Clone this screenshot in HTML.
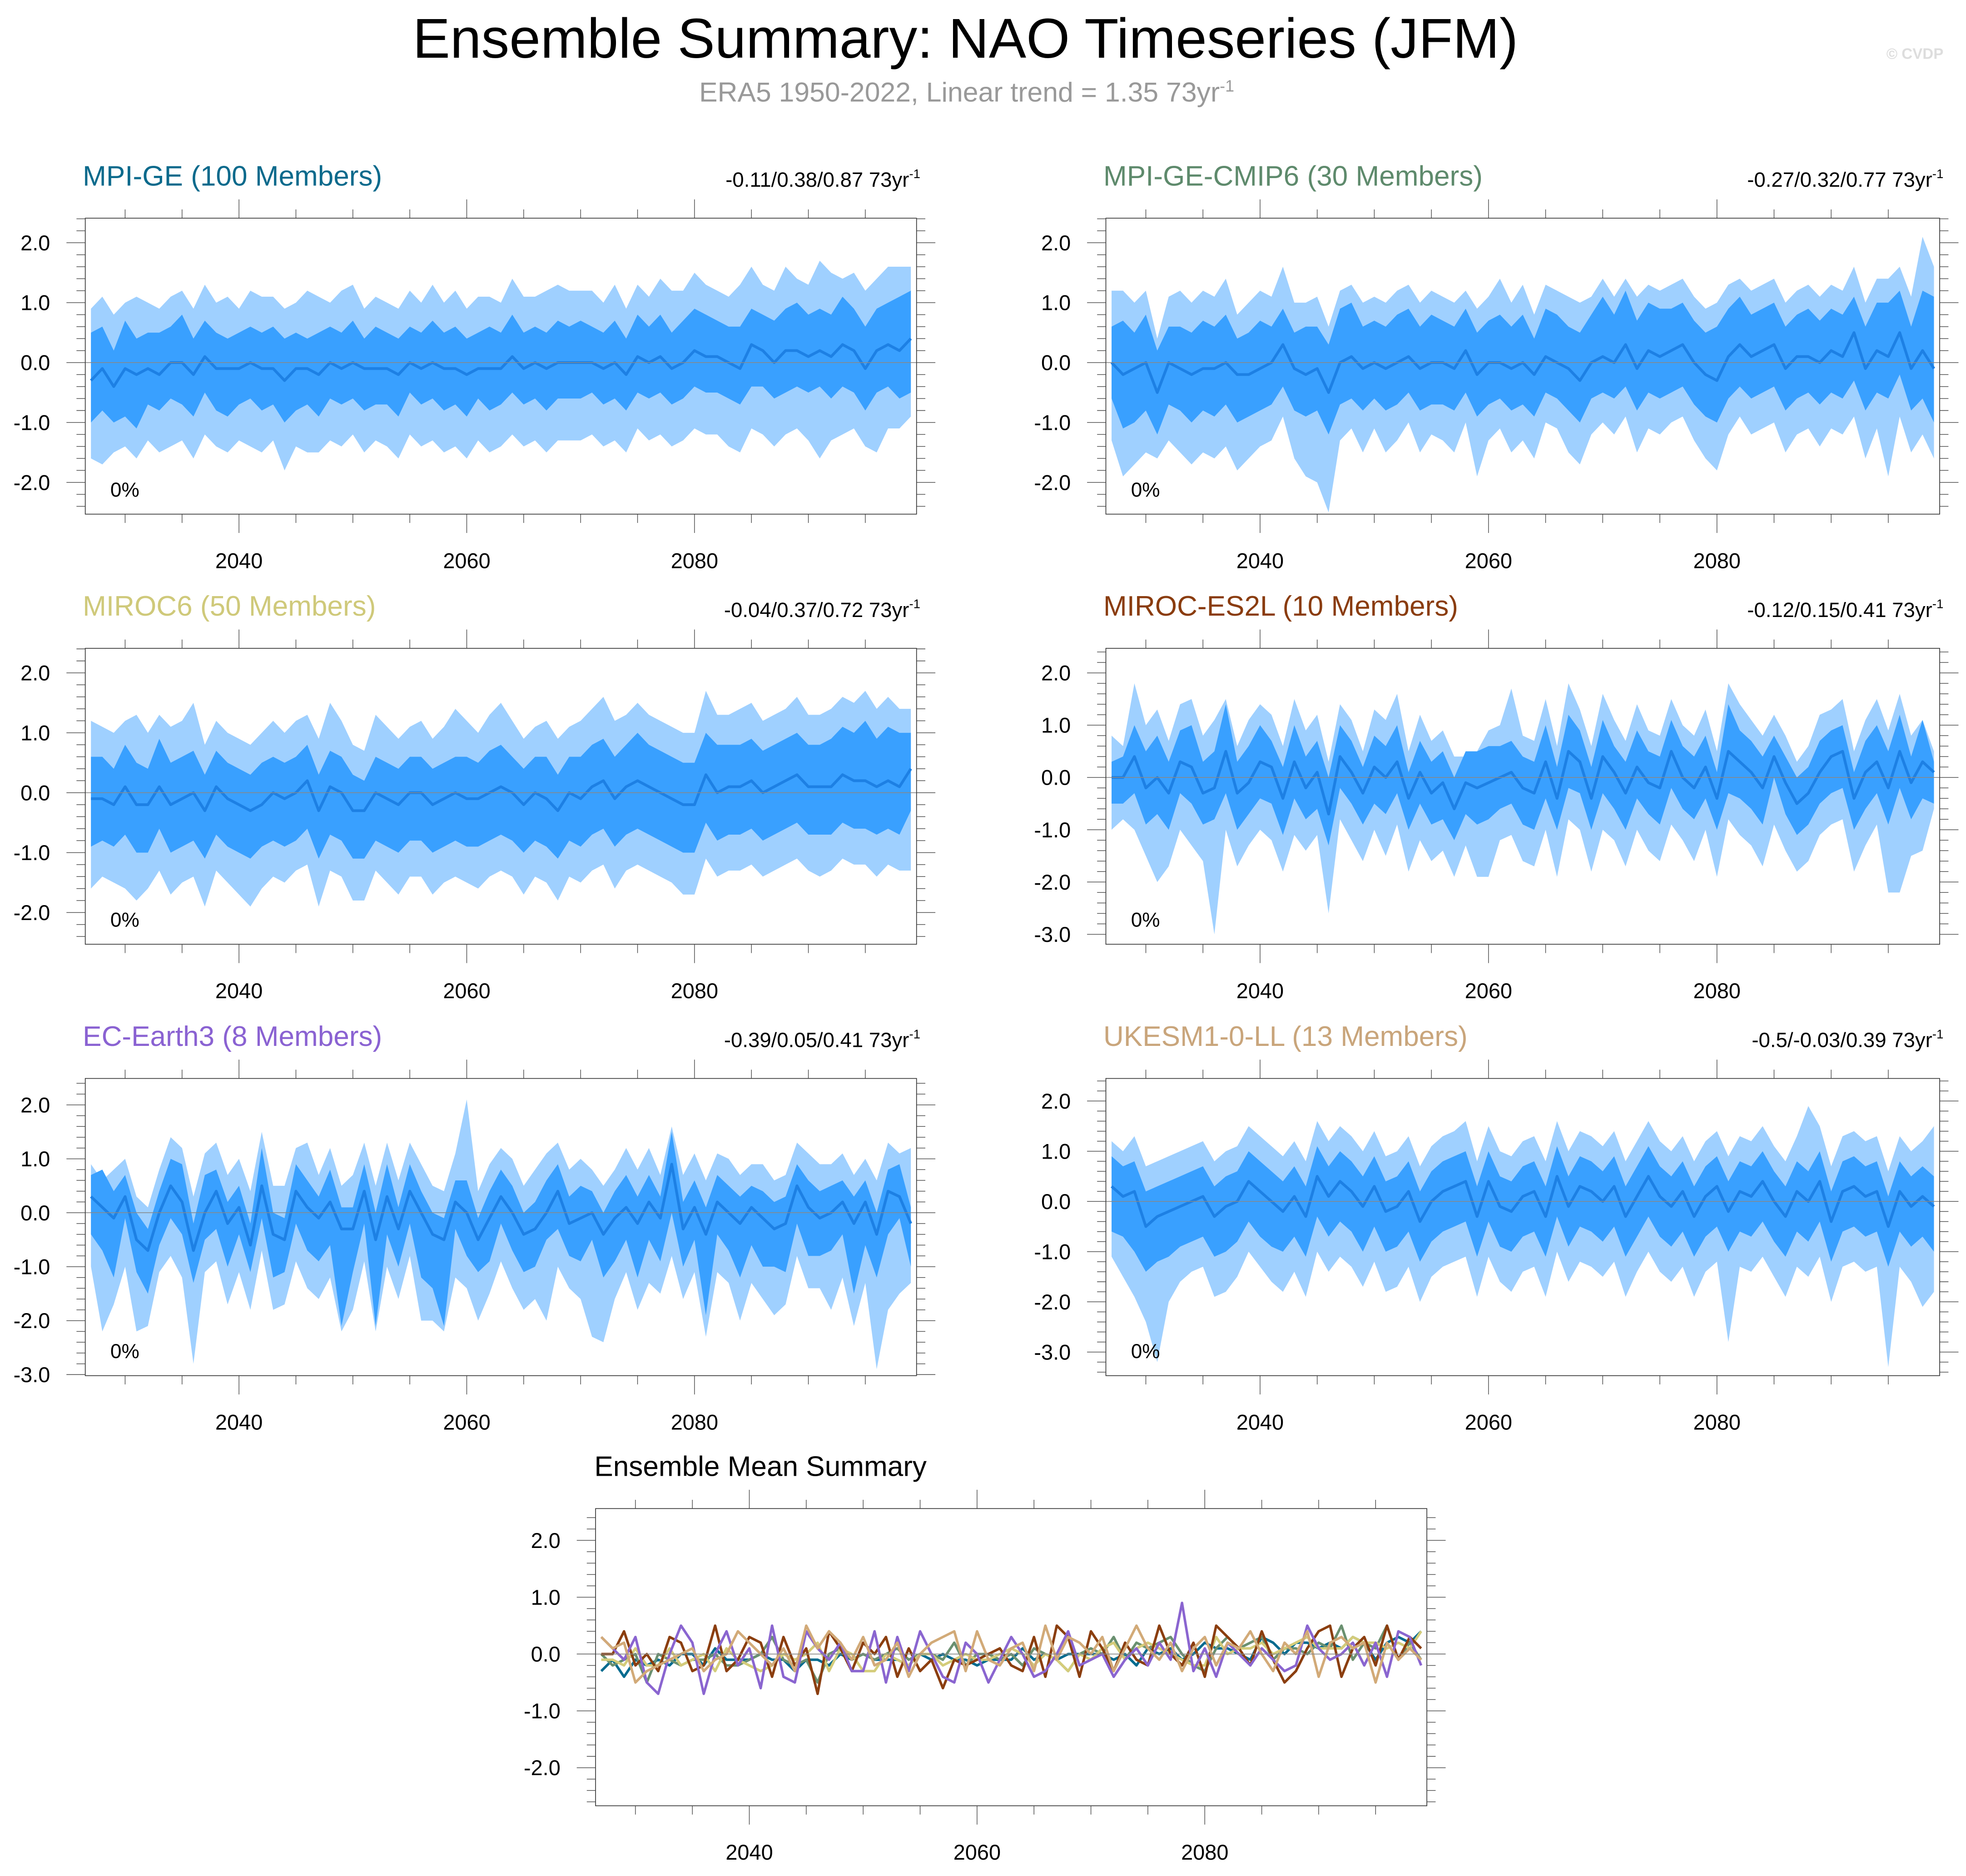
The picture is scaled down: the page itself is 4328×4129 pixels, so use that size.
<!DOCTYPE html>
<html><head><meta charset="utf-8"><style>
html,body{margin:0;padding:0;background:#fff;}
svg{display:block;font-family:"Liberation Sans",sans-serif;}
</style></head><body>
<svg id="root" width="4328" height="4129" viewBox="0 0 1568 1496" preserveAspectRatio="none" xmlns="http://www.w3.org/2000/svg">
<text x="770" y="46" text-anchor="middle" font-size="44.7">Ensemble Summary: NAO Timeseries (JFM)</text>
<text x="771" y="81" text-anchor="middle" font-size="22" fill="#999">ERA5 1950-2022, Linear trend = 1.35 73yr<tspan font-size="13" dy="-8">-1</tspan></text>
<text x="1550" y="47" text-anchor="end" font-size="12" fill="#ddd" font-weight="bold">© CVDP</text>
</svg>
<script>
const startYear = 2027;
const p1Mean=[-0.3,-0.1,-0.4,-0.1,-0.2,-0.1,-0.2,0.0,0.0,-0.2,0.1,-0.1,-0.1,-0.1,0.0,-0.1,-0.1,-0.3,-0.1,-0.1,-0.2,0.0,-0.1,0.0,-0.1,-0.1,-0.1,-0.2,0.0,-0.1,0.0,-0.1,-0.1,-0.2,-0.1,-0.1,-0.1,0.1,-0.1,0.0,-0.1,0.0,0.0,0.0,0.0,-0.1,0.0,-0.2,0.1,0.0,0.1,-0.1,0.0,0.2,0.1,0.1,0.0,-0.1,0.3,0.2,0.0,0.2,0.2,0.1,0.2,0.1,0.3,0.2,-0.1,0.2,0.3,0.2,0.4];
const p1Hi=[0.5,0.6,0.2,0.7,0.4,0.5,0.5,0.6,0.8,0.4,0.7,0.5,0.4,0.5,0.6,0.5,0.6,0.4,0.5,0.4,0.5,0.6,0.5,0.7,0.4,0.6,0.5,0.4,0.6,0.5,0.7,0.5,0.6,0.4,0.5,0.6,0.5,0.8,0.5,0.6,0.5,0.7,0.6,0.7,0.6,0.5,0.7,0.4,0.8,0.6,0.8,0.5,0.7,0.9,0.8,0.7,0.6,0.6,0.9,0.8,0.7,0.9,1.0,0.8,0.9,0.8,1.1,0.9,0.6,0.9,1.0,1.1,1.2];
const p1Lo=[-1.0,-0.8,-1.0,-0.9,-1.1,-0.7,-0.8,-0.6,-0.7,-0.9,-0.5,-0.8,-0.9,-0.7,-0.6,-0.8,-0.7,-1.0,-0.8,-0.7,-0.9,-0.6,-0.7,-0.6,-0.8,-0.7,-0.7,-0.9,-0.5,-0.7,-0.6,-0.8,-0.7,-0.9,-0.6,-0.8,-0.7,-0.5,-0.7,-0.6,-0.8,-0.6,-0.6,-0.6,-0.5,-0.7,-0.6,-0.8,-0.5,-0.6,-0.5,-0.7,-0.6,-0.4,-0.5,-0.5,-0.6,-0.7,-0.4,-0.4,-0.6,-0.5,-0.4,-0.5,-0.4,-0.6,-0.4,-0.5,-0.8,-0.5,-0.4,-0.6,-0.5];
const p1Max=[0.9,1.1,0.8,1.0,1.1,1.0,0.9,1.1,1.2,0.9,1.3,1.0,1.1,0.9,1.2,1.1,1.1,0.9,1.0,1.2,1.1,1.0,1.2,1.3,0.9,1.1,1.0,0.9,1.2,1.0,1.3,1.0,1.2,0.9,1.1,1.1,1.0,1.4,1.1,1.1,1.2,1.3,1.2,1.2,1.2,1.0,1.3,0.9,1.3,1.1,1.4,1.2,1.2,1.5,1.3,1.2,1.1,1.3,1.6,1.3,1.2,1.6,1.4,1.3,1.7,1.5,1.4,1.5,1.2,1.4,1.6,1.6,1.6];
const p1Min=[-1.6,-1.7,-1.5,-1.4,-1.6,-1.3,-1.5,-1.4,-1.3,-1.6,-1.2,-1.4,-1.5,-1.3,-1.4,-1.5,-1.3,-1.8,-1.4,-1.5,-1.5,-1.3,-1.4,-1.2,-1.5,-1.3,-1.4,-1.6,-1.2,-1.4,-1.3,-1.5,-1.4,-1.6,-1.3,-1.5,-1.4,-1.2,-1.4,-1.3,-1.5,-1.3,-1.3,-1.3,-1.2,-1.4,-1.3,-1.5,-1.1,-1.3,-1.2,-1.4,-1.3,-1.1,-1.2,-1.2,-1.4,-1.5,-1.1,-1.2,-1.4,-1.2,-1.1,-1.3,-1.6,-1.3,-1.2,-1.1,-1.4,-1.5,-1.1,-1.1,-0.9];

const p2Mean=[0.0,-0.2,-0.1,0.0,-0.5,0.0,-0.1,-0.2,-0.1,-0.1,0.0,-0.2,-0.2,-0.1,0.0,0.3,-0.1,-0.2,-0.1,-0.5,0.0,0.1,-0.1,0.0,-0.1,0.0,0.1,-0.1,0.0,0.0,-0.1,0.2,-0.2,0.0,0.0,-0.1,0.0,-0.2,0.1,0.0,-0.1,-0.3,0.0,0.1,0.0,0.3,-0.1,0.2,0.1,0.2,0.3,0.0,-0.2,-0.3,0.1,0.3,0.1,0.2,0.3,-0.1,0.1,0.1,0.0,0.2,0.1,0.5,-0.1,0.2,0.1,0.5,-0.1,0.2,-0.1];
const p2Hi=[0.6,0.7,0.5,0.8,0.2,0.6,0.6,0.5,0.7,0.6,0.8,0.4,0.5,0.7,0.6,0.9,0.5,0.6,0.6,0.3,0.9,1.0,0.6,0.7,0.6,0.8,0.9,0.6,0.8,0.7,0.6,0.9,0.5,0.7,0.8,0.6,0.8,0.4,0.9,0.8,0.6,0.5,0.8,1.1,0.8,1.2,0.7,1.0,0.9,0.9,1.0,0.7,0.5,0.6,0.9,1.1,0.8,0.9,1.0,0.6,0.8,0.9,0.7,0.9,0.8,1.1,0.6,1.0,1.0,1.2,0.6,1.2,1.1];
const p2Lo=[-0.6,-1.1,-1.0,-0.8,-1.2,-0.7,-0.8,-1.0,-0.8,-0.9,-0.7,-1.0,-0.9,-0.8,-0.7,-0.4,-0.8,-0.9,-0.8,-1.2,-0.7,-0.6,-0.8,-0.6,-0.8,-0.7,-0.5,-0.8,-0.7,-0.7,-0.8,-0.5,-0.9,-0.7,-0.6,-0.8,-0.7,-0.9,-0.5,-0.6,-0.8,-1.0,-0.6,-0.5,-0.6,-0.4,-0.8,-0.5,-0.6,-0.5,-0.4,-0.7,-0.9,-1.0,-0.6,-0.4,-0.6,-0.5,-0.4,-0.8,-0.6,-0.5,-0.7,-0.5,-0.6,-0.3,-0.8,-0.5,-0.6,-0.2,-0.8,-0.6,-1.0];
const p2Max=[1.2,1.2,1.0,1.2,0.4,1.1,1.2,1.0,1.2,1.1,1.4,0.8,1.0,1.2,1.1,1.6,1.0,1.0,1.1,0.6,1.2,1.3,1.0,1.1,1.0,1.2,1.3,1.0,1.2,1.1,1.0,1.2,0.9,1.1,1.4,1.0,1.3,0.8,1.3,1.2,1.1,1.0,1.1,1.4,1.1,1.4,1.1,1.3,1.2,1.3,1.4,1.1,0.9,1.0,1.3,1.4,1.2,1.3,1.4,1.0,1.2,1.3,1.1,1.3,1.2,1.6,1.0,1.4,1.4,1.6,1.1,2.1,1.6];
const p2Min=[-1.3,-1.9,-1.7,-1.5,-1.6,-1.3,-1.5,-1.7,-1.5,-1.6,-1.4,-1.8,-1.6,-1.4,-1.3,-0.9,-1.6,-1.9,-2.0,-2.5,-1.3,-1.1,-1.5,-1.1,-1.5,-1.3,-1.0,-1.5,-1.2,-1.3,-1.5,-1.0,-1.9,-1.3,-1.1,-1.5,-1.3,-1.6,-1.0,-1.1,-1.5,-1.7,-1.2,-1.0,-1.2,-0.9,-1.5,-1.1,-1.2,-1.0,-0.9,-1.3,-1.6,-1.8,-1.2,-0.9,-1.2,-1.1,-1.0,-1.5,-1.2,-1.1,-1.4,-1.1,-1.2,-0.9,-1.6,-1.1,-1.9,-0.9,-1.5,-1.2,-1.6];

const p3Mean=[-0.1,-0.1,-0.2,0.1,-0.2,-0.2,0.1,-0.2,-0.1,0.0,-0.3,0.1,-0.1,-0.2,-0.3,-0.2,0.0,-0.1,0.0,0.2,-0.3,0.1,0.0,-0.3,-0.3,0.0,-0.1,-0.2,0.0,0.0,-0.2,-0.1,0.0,-0.1,-0.1,0.0,0.1,0.0,-0.2,0.0,-0.1,-0.3,0.0,-0.1,0.1,0.2,-0.1,0.1,0.2,0.1,0.0,-0.1,-0.2,-0.2,0.3,0.0,0.1,0.1,0.2,0.0,0.1,0.2,0.3,0.1,0.1,0.1,0.3,0.2,0.2,0.1,0.2,0.1,0.4];
const p3Hi=[0.6,0.6,0.4,0.8,0.5,0.4,0.9,0.5,0.6,0.7,0.3,0.7,0.5,0.4,0.3,0.5,0.6,0.5,0.6,0.8,0.3,0.7,0.6,0.3,0.2,0.6,0.5,0.4,0.6,0.6,0.4,0.5,0.6,0.6,0.5,0.7,0.8,0.6,0.4,0.6,0.6,0.3,0.6,0.6,0.8,0.9,0.6,0.8,1.0,0.8,0.7,0.6,0.5,0.5,1.0,0.8,0.8,0.8,0.9,0.7,0.8,0.9,1.0,0.8,0.8,0.9,1.1,1.0,1.2,0.9,1.1,1.0,1.0];
const p3Lo=[-0.9,-0.8,-0.9,-0.7,-1.0,-1.0,-0.6,-1.0,-0.9,-0.8,-1.1,-0.7,-0.9,-1.0,-1.1,-0.9,-0.8,-0.9,-0.8,-0.6,-1.1,-0.7,-0.8,-1.1,-1.1,-0.8,-0.9,-1.0,-0.8,-0.8,-1.0,-0.9,-0.8,-0.9,-0.9,-0.8,-0.7,-0.8,-1.0,-0.8,-0.9,-1.1,-0.8,-0.9,-0.7,-0.6,-0.9,-0.7,-0.6,-0.7,-0.8,-0.9,-1.0,-1.0,-0.5,-0.8,-0.7,-0.7,-0.6,-0.8,-0.7,-0.6,-0.5,-0.7,-0.7,-0.7,-0.5,-0.6,-0.6,-0.7,-0.6,-0.7,-0.3];
const p3Max=[1.2,1.1,1.0,1.2,1.3,1.0,1.3,1.1,1.2,1.5,0.8,1.2,1.0,0.9,0.8,1.0,1.2,1.0,1.2,1.3,0.9,1.5,1.2,0.8,0.7,1.3,1.1,0.9,1.1,1.2,0.9,1.1,1.4,1.2,1.0,1.3,1.5,1.2,0.9,1.1,1.2,0.9,1.1,1.2,1.4,1.6,1.2,1.3,1.5,1.3,1.2,1.1,1.0,1.0,1.7,1.3,1.3,1.4,1.5,1.2,1.3,1.4,1.6,1.3,1.3,1.4,1.6,1.5,1.7,1.4,1.6,1.4,1.4];
const p3Min=[-1.6,-1.4,-1.5,-1.6,-1.8,-1.6,-1.3,-1.7,-1.5,-1.4,-1.9,-1.3,-1.5,-1.7,-1.9,-1.6,-1.4,-1.5,-1.3,-1.2,-1.9,-1.3,-1.4,-1.8,-1.8,-1.3,-1.5,-1.7,-1.4,-1.4,-1.7,-1.5,-1.4,-1.5,-1.6,-1.4,-1.3,-1.4,-1.7,-1.4,-1.5,-1.8,-1.4,-1.5,-1.3,-1.2,-1.6,-1.3,-1.2,-1.3,-1.4,-1.5,-1.7,-1.7,-1.1,-1.4,-1.3,-1.3,-1.2,-1.4,-1.3,-1.2,-1.1,-1.3,-1.4,-1.3,-1.1,-1.2,-1.2,-1.4,-1.2,-1.3,-1.3];

const p4Mean=[0.0,0.0,0.4,-0.2,0.0,-0.3,0.3,0.2,-0.3,-0.2,0.5,-0.3,-0.1,0.3,0.2,-0.4,0.3,-0.2,0.1,-0.7,0.4,0.1,-0.3,0.2,0.0,0.3,-0.4,0.1,-0.3,-0.1,-0.6,-0.1,-0.2,-0.1,0.0,0.1,-0.2,-0.3,0.3,-0.4,0.5,0.3,-0.4,0.4,0.1,-0.3,0.2,-0.1,-0.2,0.5,0.0,-0.2,0.2,-0.4,0.5,0.3,0.1,-0.2,0.4,-0.1,-0.5,-0.3,0.1,0.4,0.5,-0.4,0.1,0.3,-0.2,0.5,-0.1,0.3,0.1];
const p4Hi=[0.3,0.4,1.0,0.5,0.8,0.3,0.9,1.0,0.3,0.5,1.4,0.3,0.6,1.0,0.7,0.2,1.0,0.4,0.7,0.0,1.0,0.7,0.2,0.8,0.6,1.0,0.1,0.7,0.3,0.5,0.0,0.5,0.5,0.6,0.6,0.7,0.4,0.3,1.0,0.2,1.2,0.9,0.2,1.1,0.6,0.3,0.9,0.5,0.4,1.1,0.6,0.4,0.8,0.1,1.4,0.9,0.7,0.4,0.8,0.4,0.0,0.2,0.7,0.9,1.0,0.1,0.7,1.0,0.5,1.2,0.4,1.1,0.3];
const p4Lo=[-0.5,-0.5,-0.3,-0.9,-0.7,-1.0,-0.3,-0.5,-0.9,-0.8,-0.3,-1.0,-0.7,-0.4,-0.5,-1.1,-0.4,-0.8,-0.6,-1.3,-0.2,-0.5,-0.9,-0.5,-0.7,-0.3,-1.0,-0.5,-0.9,-0.8,-1.2,-0.7,-0.9,-0.8,-0.6,-0.5,-0.9,-1.0,-0.4,-1.0,-0.2,-0.3,-1.0,-0.3,-0.6,-1.0,-0.4,-0.7,-0.9,-0.2,-0.6,-0.8,-0.4,-1.0,-0.3,-0.4,-0.6,-0.9,0.0,-0.7,-1.1,-0.9,-0.5,-0.3,-0.2,-1.0,-0.6,-0.3,-0.9,-0.2,-0.8,-0.4,-0.5];
const p4Max=[0.8,0.6,1.8,1.0,1.3,0.7,1.4,1.5,0.8,1.1,1.5,0.6,1.1,1.4,1.2,0.6,1.5,0.9,1.2,0.3,1.4,1.1,0.5,1.3,1.1,1.6,0.5,1.2,0.7,0.9,0.4,0.4,0.5,0.9,1.0,1.7,0.8,0.7,1.5,0.6,1.8,1.3,0.6,1.6,1.1,0.7,1.4,0.9,0.8,1.5,1.0,0.8,1.3,0.5,1.8,1.4,1.1,0.8,1.2,0.8,0.3,0.6,1.2,1.3,1.5,0.5,1.1,1.5,0.9,1.6,0.8,1.1,0.5];
const p4Min=[-1.0,-0.8,-1.0,-1.5,-2.0,-1.7,-1.0,-1.3,-1.6,-3.0,-1.0,-1.7,-1.3,-1.0,-1.2,-1.8,-1.1,-1.4,-1.1,-2.6,-0.8,-1.2,-1.6,-1.0,-1.5,-0.9,-1.8,-1.2,-1.6,-1.4,-1.9,-1.3,-1.9,-1.9,-1.2,-1.1,-1.6,-1.7,-1.0,-1.9,-0.8,-1.0,-1.8,-1.0,-1.2,-1.7,-1.0,-1.4,-1.6,-0.9,-1.2,-1.6,-1.0,-1.9,-0.8,-1.1,-1.3,-1.7,-0.9,-1.4,-1.8,-1.6,-1.1,-0.9,-0.8,-1.8,-1.3,-0.9,-2.2,-2.2,-1.5,-1.4,-0.6];

const p5Mean=[0.3,0.1,-0.1,0.3,-0.5,-0.7,0.0,0.5,0.2,-0.7,0.0,0.4,-0.2,0.1,-0.6,0.5,-0.4,-0.5,0.4,0.1,-0.1,0.2,-0.3,-0.3,0.4,-0.5,0.3,-0.3,0.4,0.0,-0.4,-0.5,0.2,0.0,-0.5,-0.1,0.3,0.0,-0.4,-0.3,0.0,0.4,-0.2,-0.1,0.0,-0.4,-0.1,0.1,-0.2,0.2,-0.1,0.9,-0.3,0.1,-0.4,0.2,0.0,-0.2,0.1,-0.1,-0.3,-0.2,0.5,0.1,-0.1,0.0,0.2,-0.2,0.2,-0.4,0.4,0.3,-0.2];
const p5Hi=[0.7,0.8,0.4,0.7,0.0,-0.3,0.4,1.0,0.9,-0.2,0.7,0.8,0.2,0.5,-0.2,1.2,0.0,-0.1,0.9,0.6,0.3,0.8,0.1,0.1,0.9,0.0,0.9,0.1,0.9,0.4,0.0,-0.1,0.6,0.6,-0.1,0.4,0.8,0.5,0.0,0.2,0.6,0.9,0.3,0.5,0.4,0.0,0.4,0.7,0.3,0.7,0.3,1.5,0.2,0.6,0.1,0.7,0.5,0.3,0.5,0.4,0.2,0.3,0.9,0.6,0.4,0.5,0.6,0.3,0.6,0.0,0.8,0.9,0.1];
const p5Lo=[-0.4,-0.7,-1.2,-0.1,-1.1,-1.5,-0.6,-0.1,-0.4,-1.3,-0.5,-0.3,-1.0,-0.4,-1.1,-0.1,-1.2,-1.1,-0.2,-0.7,-0.9,-0.6,-2.1,-1.1,-0.2,-2.1,-0.4,-1.0,-0.2,-1.2,-1.4,-2.1,-0.3,-0.8,-1.1,-0.9,-0.2,-0.7,-1.1,-1.0,-0.5,-0.3,-0.8,-0.9,-0.5,-1.2,-0.9,-0.5,-1.2,-0.5,-0.9,0.0,-1.0,-0.5,-1.9,-0.4,-0.7,-1.2,-0.6,-1.0,-1.0,-1.1,-0.2,-0.8,-0.8,-0.7,-0.4,-1.5,-0.6,-1.2,-0.4,-0.1,-1.0];
const p5Max=[0.9,0.6,0.8,1.0,0.3,0.1,0.8,1.4,1.2,0.3,1.1,1.3,0.7,1.0,0.4,1.5,0.5,0.5,1.2,1.3,0.7,1.2,0.5,0.7,1.3,0.5,1.3,0.6,1.3,0.9,0.5,0.4,1.1,2.1,0.4,0.9,1.2,1.0,0.5,0.8,1.1,1.3,0.8,1.0,0.8,0.5,0.8,1.2,0.8,1.2,0.7,1.6,0.7,1.1,0.6,1.1,1.0,0.7,0.9,0.9,0.6,0.7,1.3,1.1,0.9,0.9,1.1,0.7,1.0,0.6,1.3,1.1,1.2];
const p5Min=[-1.0,-2.2,-1.7,-1.0,-2.2,-2.1,-1.1,-0.8,-1.2,-2.8,-1.1,-0.9,-1.7,-1.1,-1.8,-0.7,-1.8,-1.7,-0.9,-1.4,-1.6,-1.2,-2.2,-1.8,-0.9,-2.2,-1.0,-1.6,-0.8,-2.0,-2.0,-2.2,-1.2,-1.4,-2.0,-1.5,-0.9,-1.4,-1.8,-1.6,-2.0,-1.0,-1.4,-1.6,-2.3,-2.4,-1.6,-1.1,-1.8,-1.3,-1.5,-0.8,-1.6,-1.1,-2.3,-1.1,-1.3,-2.0,-1.3,-1.6,-1.9,-1.7,-0.8,-1.4,-1.4,-1.8,-1.2,-2.1,-1.3,-2.9,-1.8,-1.5,-1.3];

const p6Mean=[0.3,0.1,0.2,-0.5,-0.3,-0.2,-0.1,0.0,0.1,-0.3,-0.1,0.0,0.4,0.2,0.0,-0.2,0.1,-0.3,0.5,0.1,0.4,0.2,-0.1,0.3,-0.2,-0.1,0.2,-0.4,0.0,0.2,0.3,0.4,-0.3,0.4,-0.1,-0.2,0.1,0.2,-0.3,0.5,-0.1,0.3,0.2,0.0,0.3,-0.3,0.1,0.5,0.1,-0.1,0.2,-0.3,0.1,0.3,-0.2,0.2,0.1,0.4,0.0,-0.3,0.2,0.0,0.4,-0.4,0.2,0.3,0.1,0.2,-0.5,0.2,-0.1,0.1,-0.1];
const p6Hi=[0.9,0.7,0.8,0.2,0.3,0.4,0.5,0.6,0.7,0.3,0.5,0.6,1.0,0.8,0.6,0.4,0.7,0.3,1.1,0.7,1.0,0.8,0.5,0.9,0.4,0.5,0.8,0.2,0.6,0.8,0.9,1.0,0.3,1.0,0.5,0.4,0.7,0.8,0.3,1.1,0.5,0.9,0.8,0.6,0.9,0.3,0.7,1.1,0.7,0.5,0.8,0.3,0.7,0.9,0.4,0.8,0.7,1.0,0.6,0.3,0.8,0.6,1.0,0.2,0.8,0.9,0.7,0.8,0.1,0.8,0.5,0.7,0.5];
const p6Lo=[-0.6,-0.7,-1.0,-1.4,-1.2,-1.1,-0.9,-0.8,-0.7,-1.1,-1.0,-0.8,-0.4,-0.7,-0.9,-1.0,-0.7,-1.1,-0.3,-0.7,-0.4,-0.6,-1.0,-0.5,-1.0,-0.9,-0.6,-1.2,-0.8,-0.6,-0.5,-0.4,-1.1,-0.4,-0.9,-1.0,-0.7,-0.6,-1.1,-0.3,-0.9,-0.5,-0.6,-0.8,-0.5,-1.1,-0.7,-0.3,-0.7,-0.9,-0.6,-1.1,-0.7,-0.5,-1.0,-0.6,-0.7,-0.4,-0.8,-1.1,-0.6,-0.8,-0.4,-1.2,-0.6,-0.5,-0.7,-0.6,-1.3,-0.6,-0.9,-0.7,-1.0];
const p6Max=[1.2,1.0,1.3,0.7,0.8,0.9,1.0,1.1,1.2,0.8,1.0,1.1,1.5,1.3,1.1,0.9,1.2,0.8,1.6,1.2,1.5,1.3,1.0,1.4,0.9,1.0,1.3,0.7,1.1,1.3,1.4,1.6,0.8,1.5,1.0,0.9,1.2,1.3,0.8,1.6,1.0,1.4,1.3,1.1,1.4,0.8,1.2,1.6,1.2,1.0,1.3,0.8,1.2,1.4,0.9,1.3,1.2,1.5,1.1,0.8,1.3,1.9,1.5,0.7,1.3,1.4,1.2,1.3,0.6,1.3,1.0,1.2,1.5];
const p6Min=[-1.1,-1.5,-1.9,-2.4,-3.2,-2.0,-1.6,-1.4,-1.3,-1.9,-1.8,-1.5,-1.0,-1.3,-1.6,-1.8,-1.4,-1.9,-1.0,-1.4,-1.1,-1.3,-1.7,-1.2,-1.8,-1.7,-1.3,-2.0,-1.5,-1.3,-1.2,-1.1,-1.9,-1.1,-1.6,-1.8,-1.4,-1.3,-1.9,-1.0,-1.6,-1.2,-1.3,-1.5,-1.2,-1.9,-1.4,-1.0,-1.4,-1.6,-1.3,-1.9,-1.4,-1.2,-2.8,-1.3,-1.4,-1.1,-1.5,-1.9,-1.3,-1.5,-1.1,-2.0,-1.3,-1.2,-1.4,-1.3,-3.3,-1.3,-1.6,-2.1,-1.8];

const modelNames=["MPI-GE (100 Members)","MPI-GE-CMIP6 (30 Members)","MIROC6 (50 Members)","MIROC-ES2L (10 Members)","EC-Earth3 (8 Members)","UKESM1-0-LL (13 Members)"];
const trendLabels=["-0.11/0.38/0.87 73yr","-0.27/0.32/0.77 73yr","-0.04/0.37/0.72 73yr","-0.12/0.15/0.41 73yr","-0.39/0.05/0.41 73yr","-0.5/-0.03/0.39 73yr"];
const xTickYears=[2040,2060,2080];
const yTicksA=[-2,-1,0,1,2];
const yTicksB=[-3,-2,-1,0,1,2];

const NS="http://www.w3.org/2000/svg";
const svg=document.getElementById('root');
function mk(tag,attrs,parent){const e=document.createElementNS(NS,tag);for(const k in attrs)e.setAttribute(k,attrs[k]);(parent||svg).appendChild(e);return e;}

const titleColors=["#0b6a8c","#5e8a6c","#cfc97a","#8a3c0e","#8a62d2","#c9a57b"];
const panels=[
 {x0:68,x1:731,y0:174,y1:410,vmin:-2.53,vmax:2.41,ticks:yTicksA,d:[p1Mean,p1Hi,p1Lo,p1Max,p1Min]},
 {x0:882,x1:1547,y0:174,y1:410,vmin:-2.53,vmax:2.41,ticks:yTicksA,d:[p2Mean,p2Hi,p2Lo,p2Max,p2Min]},
 {x0:68,x1:731,y0:517,y1:753,vmin:-2.53,vmax:2.41,ticks:yTicksA,d:[p3Mean,p3Hi,p3Lo,p3Max,p3Min]},
 {x0:882,x1:1547,y0:517,y1:753,vmin:-3.19,vmax:2.47,ticks:yTicksB,d:[p4Mean,p4Hi,p4Lo,p4Max,p4Min]},
 {x0:68,x1:731,y0:860,y1:1097,vmin:-3.02,vmax:2.49,ticks:yTicksB,d:[p5Mean,p5Hi,p5Lo,p5Max,p5Min]},
 {x0:882,x1:1547,y0:860,y1:1097,vmin:-3.47,vmax:2.45,ticks:yTicksB,d:[p6Mean,p6Hi,p6Lo,p6Max,p6Min]}
];
const Y0=2026.5,Y1=2099.5;

function axes(p,g){
 p.xs=y=>p.x0+(y-Y0)/(Y1-Y0)*(p.x1-p.x0);
 p.ys=v=>p.y1-(v-p.vmin)/(p.vmax-p.vmin)*(p.y1-p.y0);
}
function frame(p,g){
 const zl=mk('line',{x1:p.x0,x2:p.x1,y1:p.ys(0),y2:p.ys(0),stroke:'#888','stroke-width':0.6},g);
 
 
 const box=mk('rect',{x:p.x0,y:p.y0,width:p.x1-p.x0,height:p.y1-p.y0,fill:'none',stroke:'#333','stroke-width':0.6},g);
 
 
 const lo=Math.ceil(p.vmin*5),hi=Math.floor(p.vmax*5);
 for(let k=lo;k<=hi;k++){
  const v=k/5,y=p.ys(v),major=(k%5===0);
  const L=major?15:7;
  mk('line',{x1:p.x0-L,x2:p.x0,y1:y,y2:y,stroke:'#444','stroke-width':0.5},g);
  mk('line',{x1:p.x1,x2:p.x1+L,y1:y,y2:y,stroke:'#444','stroke-width':0.5},g);
 }
 p.ticks.forEach(v=>{
  const t=mk('text',{x:p.x0-28,y:p.ys(v)+6,'text-anchor':'end','font-size':17},g);
  t.textContent=v.toFixed(1);
  
  
 });
 for(let yr=2030;yr<=2095;yr+=5){
  const x=p.xs(yr),major=(yr%20===0);const L=major?15:7;
  mk('line',{x1:x,x2:x,y1:p.y1,y2:p.y1+L,stroke:'#444','stroke-width':0.5},g);
  mk('line',{x1:x,x2:x,y1:p.y0-L,y2:p.y0,stroke:'#444','stroke-width':0.5},g);
 }
 xTickYears.forEach(yr=>{
  const t=mk('text',{x:p.xs(yr),y:p.y1+43,'text-anchor':'middle','font-size':17},g);
  t.textContent=yr;
  
  
 });
}
function band(p,g,up,dn,fill,name){
 let pts=[];
 up.forEach((v,i)=>pts.push(p.xs(startYear+i).toFixed(2)+','+p.ys(v).toFixed(2)));
 for(let i=dn.length-1;i>=0;i--)pts.push(p.xs(startYear+i).toFixed(2)+','+p.ys(dn[i]).toFixed(2));
 const e=mk('polygon',{points:pts.join(' '),fill:fill},g);
 
 
}
function line(p,g,arr,color,w,name){
 const pts=arr.map((v,i)=>p.xs(startYear+i).toFixed(2)+','+p.ys(v).toFixed(2)).join(' ');
 const e=mk('polyline',{points:pts,fill:'none',stroke:color,'stroke-width':w,'stroke-linejoin':'round'},g);
 
 
}

panels.forEach((p,idx)=>{
 const g=mk('g',{});
 
 
 axes(p,g);
 band(p,g,p.d[3],p.d[4],'#9fd0ff','range-band');
 band(p,g,p.d[1],p.d[2],'#39a0ff','percentile-band');
 line(p,g,p.d[0],'#1d80e4',2.2,'ensemble-mean-line');
 frame(p,g);
 const tt=mk('text',{x:p.x0-2,y:p.y0-26,'font-size':22.5,fill:titleColors[idx]},g);
 tt.textContent=modelNames[idx];
 
 
 const tr=mk('text',{x:p.x1+3,y:p.y0-25,'text-anchor':'end','font-size':16.5},g);
 tr.textContent=trendLabels[idx];
 const sup=mk('tspan',{'font-size':10,dy:-7},tr);sup.textContent='-1';
 
 
 const pc=mk('text',{x:p.x0+20,y:p.y1-14,'font-size':16},g);
 pc.textContent='0%';
 
 
});

const sp={x0:475,x1:1138,y0:1203,y1:1440,vmin:-2.67,vmax:2.56,ticks:yTicksA};
const sg=mk('g',{});


axes(sp,sg);
const summarySeries=[p1Mean,p2Mean,p3Mean,p4Mean,p5Mean,p6Mean];
const summaryColors=["#006b8f","#6a9070","#d4cc7a","#8b3e0f","#8a65d0","#d2aa78"];
summarySeries.forEach((s,i)=>line(sp,sg,s,summaryColors[i],2,'summary-line-'+(i+1)));
frame(sp,sg);
const st=mk('text',{x:474,y:1177,'font-size':22.5},sg);
st.textContent='Ensemble Mean Summary';


</script>
</body></html>
